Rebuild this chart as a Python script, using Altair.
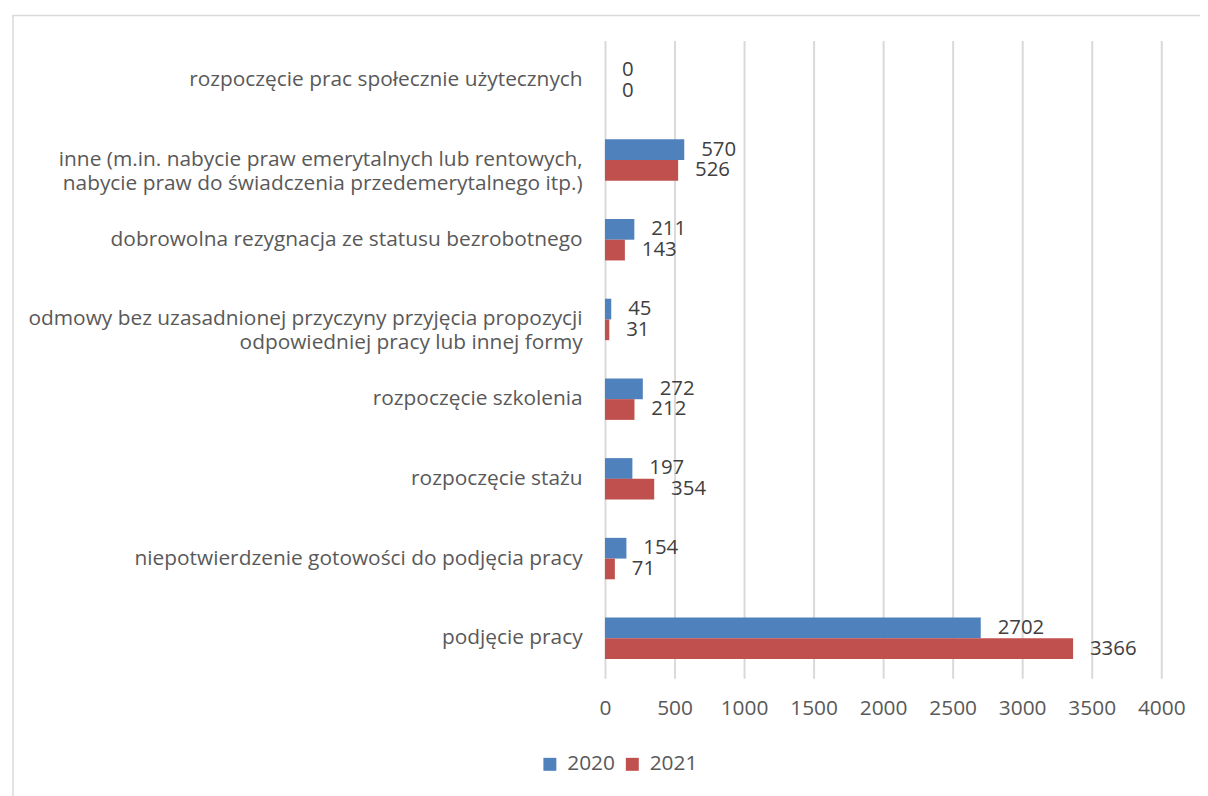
import altair as alt
import pandas as pd

categories = [
    "rozpoczęcie prac społecznie użytecznych",
    "inne (m.in. nabycie praw emerytalnych lub rentowych,|nabycie praw do świadczenia przedemerytalnego itp.)",
    "dobrowolna rezygnacja ze statusu bezrobotnego",
    "odmowy bez uzasadnionej przyczyny przyjęcia propozycji|odpowiedniej pracy lub innej formy",
    "rozpoczęcie szkolenia",
    "rozpoczęcie stażu",
    "niepotwierdzenie gotowości do podjęcia pracy",
    "podjęcie pracy",
]
v2020 = [0, 570, 211, 45, 272, 197, 154, 2702]
v2021 = [0, 526, 143, 31, 212, 354, 71, 3366]
series = ["2020", "2021"]
colors = ["#4F81BD", "#C0504D"]
x_ticks = [0, 500, 1000, 1500, 2000, 2500, 3000, 3500, 4000]

rows = []
for c, a, b in zip(categories, v2020, v2021):
    rows.append({"cat": c, "year": "2020", "value": a})
    rows.append({"cat": c, "year": "2021", "value": b})
df = pd.DataFrame(rows)

FONT = "Open Sans"
FS = 21
VFS = 20.5
GRAY = "#595959"

y_enc = alt.Y(
    "cat:N",
    sort=categories,
    scale=alt.Scale(paddingInner=0.48, paddingOuter=0.24),
    axis=alt.Axis(
        title=None,
        labelExpr="split(datum.label, '|')",
        ticks=False,
        domain=False,
        labelPadding=23,
        labelFontSize=FS,
        labelColor=GRAY,
        labelFont=FONT,
        labelLineHeight=24,
        labelLimit=800,
    ),
)
x_enc = alt.X(
    "value:Q",
    scale=alt.Scale(domain=[0, 4000], nice=False),
    axis=alt.Axis(
        title=None,
        values=x_ticks,
        format="d",
        labelOverlap=False,
        labelFlush=False,
        ticks=False,
        domain=False,
        grid=True,
        gridColor="#d9d9d9",
        gridWidth=2,
        labelPadding=20,
        labelFontSize=FS,
        labelColor=GRAY,
        labelFont=FONT,
    ),
)

base = alt.Chart(df)

bars = base.mark_bar().encode(
    x=x_enc,
    y=y_enc,
    yOffset=alt.YOffset("year:N", sort=series),
    color=alt.Color(
        "year:N",
        scale=alt.Scale(domain=series, range=colors),
        legend=alt.Legend(
            title=None,
            orient="none",
            legendX=-66,
            legendY=718,
            direction="horizontal",
            symbolType="square",
            symbolSize=170,
            symbolStrokeWidth=0,
            labelFontSize=FS,
            labelColor=GRAY,
            labelFont=FONT,
            labelOffset=7,
            columnPadding=6,
        ),
    ),
)

labels = base.mark_text(
    align="left", baseline="middle", dx=17, fontSize=VFS, color="#404040", font=FONT
).encode(
    x=alt.X("value:Q"),
    y=alt.Y("cat:N", sort=categories),
    yOffset=alt.YOffset("year:N", sort=series),
    text=alt.Text("value:Q"),
)

frame = alt.Chart(pd.DataFrame({"a": [0]})).mark_rect(
    fillOpacity=0, stroke="#d9d9d9", strokeWidth=1.5
).encode(
    x=alt.value(-596), x2=alt.value(640), y=alt.value(-25), y2=alt.value(800)
)

chart = (
    alt.layer(frame, bars, labels)
    .properties(
        width=560,
        height=642,
        padding={"left": 601, "top": 30, "right": 39, "bottom": 116},
        autosize=alt.AutoSizeParams(type="none"),
        background="white",
    )
    .configure_view(stroke=None)
)

chart.save("out.html", embed_options={"renderer": "svg", "actions": False})
